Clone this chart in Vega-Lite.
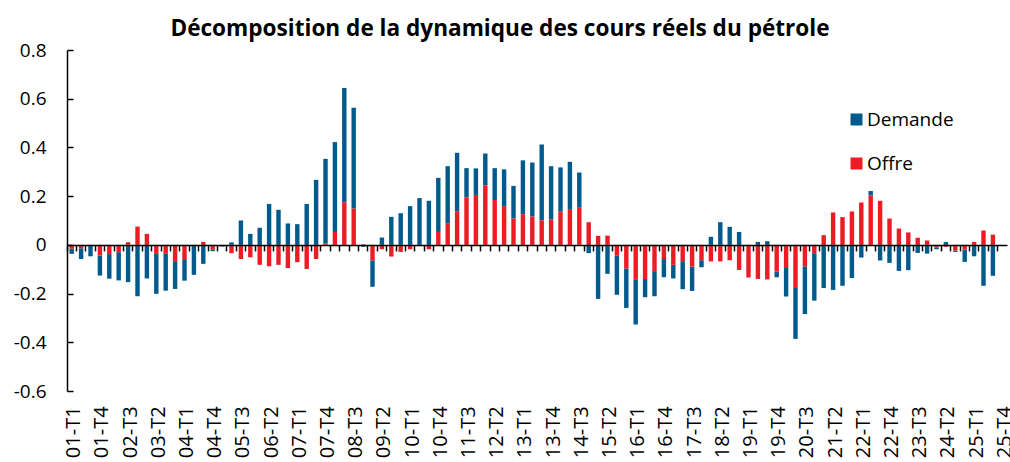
{
  "$schema": "https://vega.github.io/schema/vega-lite/v6.json",
  "width": 940,
  "height": 341,
  "autosize": "none",
  "padding": {"left": 67, "top": 50, "right": 3, "bottom": 71},
  "background": "white",
  "title": {"text": "Décomposition de la dynamique des cours réels du pétrole", "font": "Open Sans", "fontWeight": "bold", "fontSize": 22.6, "color": "black", "anchor": "middle", "frame": "group", "dx": -37, "dy": 31, "baseline": "alphabetic", "offset": 13},
  "config": {"view": {"stroke": null}, "font": "Open Sans"},
  "data": {"values": [
    {"q": "01-T1", "Demande": -0.021, "Offre": -0.016},
    {"q": "01-T2", "Demande": -0.044, "Offre": -0.014},
    {"q": "01-T3", "Demande": -0.044, "Offre": -0.003},
    {"q": "01-T4", "Demande": -0.082, "Offre": -0.044},
    {"q": "02-T1", "Demande": -0.101, "Offre": -0.038},
    {"q": "02-T2", "Demande": -0.116, "Offre": -0.030},
    {"q": "02-T3", "Demande": -0.153, "Offre": 0.011},
    {"q": "02-T4", "Demande": -0.211, "Offre": 0.075},
    {"q": "03-T1", "Demande": -0.138, "Offre": 0.045},
    {"q": "03-T2", "Demande": -0.164, "Offre": -0.037},
    {"q": "03-T3", "Demande": -0.151, "Offre": -0.037},
    {"q": "03-T4", "Demande": -0.111, "Offre": -0.070},
    {"q": "04-T1", "Demande": -0.085, "Offre": -0.062},
    {"q": "04-T2", "Demande": -0.119, "Offre": -0.004},
    {"q": "04-T3", "Demande": -0.078, "Offre": 0.012},
    {"q": "04-T4", "Demande": -0.006, "Offre": -0.020},
    {"q": "05-T1", "Demande": -0.005, "Offre": -0.002},
    {"q": "05-T2", "Demande": 0.010, "Offre": -0.034},
    {"q": "05-T3", "Demande": 0.100, "Offre": -0.058},
    {"q": "05-T4", "Demande": 0.045, "Offre": -0.051},
    {"q": "06-T1", "Demande": 0.070, "Offre": -0.082},
    {"q": "06-T2", "Demande": 0.168, "Offre": -0.088},
    {"q": "06-T3", "Demande": 0.144, "Offre": -0.082},
    {"q": "06-T4", "Demande": 0.088, "Offre": -0.095},
    {"q": "07-T1", "Demande": 0.085, "Offre": -0.071},
    {"q": "07-T2", "Demande": 0.168, "Offre": -0.099},
    {"q": "07-T3", "Demande": 0.267, "Offre": -0.058},
    {"q": "07-T4", "Demande": 0.348, "Offre": 0.005},
    {"q": "08-T1", "Demande": 0.369, "Offre": 0.053},
    {"q": "08-T2", "Demande": 0.469, "Offre": 0.175},
    {"q": "08-T3", "Demande": 0.414, "Offre": 0.149},
    {"q": "08-T4", "Demande": -0.008, "Offre": 0.002},
    {"q": "09-T1", "Demande": -0.108, "Offre": -0.064},
    {"q": "09-T2", "Demande": 0.030, "Offre": -0.018},
    {"q": "09-T3", "Demande": 0.115, "Offre": -0.048},
    {"q": "09-T4", "Demande": 0.130, "Offre": -0.029},
    {"q": "10-T1", "Demande": 0.159, "Offre": -0.018},
    {"q": "10-T2", "Demande": 0.192, "Offre": -0.005},
    {"q": "10-T3", "Demande": 0.181, "Offre": -0.018},
    {"q": "10-T4", "Demande": 0.222, "Offre": 0.053},
    {"q": "11-T1", "Demande": 0.234, "Offre": 0.089},
    {"q": "11-T2", "Demande": 0.240, "Offre": 0.138},
    {"q": "11-T3", "Demande": 0.120, "Offre": 0.195},
    {"q": "11-T4", "Demande": 0.109, "Offre": 0.205},
    {"q": "12-T1", "Demande": 0.131, "Offre": 0.244},
    {"q": "12-T2", "Demande": 0.131, "Offre": 0.184},
    {"q": "12-T3", "Demande": 0.151, "Offre": 0.159},
    {"q": "12-T4", "Demande": 0.134, "Offre": 0.108},
    {"q": "13-T1", "Demande": 0.221, "Offre": 0.126},
    {"q": "13-T2", "Demande": 0.222, "Offre": 0.116},
    {"q": "13-T3", "Demande": 0.311, "Offre": 0.101},
    {"q": "13-T4", "Demande": 0.219, "Offre": 0.104},
    {"q": "14-T1", "Demande": 0.182, "Offre": 0.136},
    {"q": "14-T2", "Demande": 0.194, "Offre": 0.147},
    {"q": "14-T3", "Demande": 0.145, "Offre": 0.152},
    {"q": "14-T4", "Demande": -0.034, "Offre": 0.093},
    {"q": "15-T1", "Demande": -0.222, "Offre": 0.037},
    {"q": "15-T2", "Demande": -0.119, "Offre": 0.038},
    {"q": "15-T3", "Demande": -0.160, "Offre": -0.045},
    {"q": "15-T4", "Demande": -0.162, "Offre": -0.097},
    {"q": "16-T1", "Demande": -0.183, "Offre": -0.144},
    {"q": "16-T2", "Demande": -0.075, "Offre": -0.140},
    {"q": "16-T3", "Demande": -0.103, "Offre": -0.108},
    {"q": "16-T4", "Demande": -0.075, "Offre": -0.058},
    {"q": "17-T1", "Demande": -0.056, "Offre": -0.082},
    {"q": "17-T2", "Demande": -0.115, "Offre": -0.067},
    {"q": "17-T3", "Demande": -0.100, "Offre": -0.089},
    {"q": "17-T4", "Demande": -0.029, "Offre": -0.063},
    {"q": "18-T1", "Demande": 0.033, "Offre": -0.068},
    {"q": "18-T2", "Demande": 0.093, "Offre": -0.068},
    {"q": "18-T3", "Demande": 0.074, "Offre": -0.063},
    {"q": "18-T4", "Demande": 0.053, "Offre": -0.103},
    {"q": "19-T1", "Demande": 0.000, "Offre": -0.134},
    {"q": "19-T2", "Demande": 0.012, "Offre": -0.140},
    {"q": "19-T3", "Demande": 0.015, "Offre": -0.142},
    {"q": "19-T4", "Demande": -0.023, "Offre": -0.110},
    {"q": "20-T1", "Demande": -0.117, "Offre": -0.095},
    {"q": "20-T2", "Demande": -0.209, "Offre": -0.177},
    {"q": "20-T3", "Demande": -0.196, "Offre": -0.088},
    {"q": "20-T4", "Demande": -0.195, "Offre": -0.034},
    {"q": "21-T1", "Demande": -0.177, "Offre": 0.040},
    {"q": "21-T2", "Demande": -0.185, "Offre": 0.133},
    {"q": "21-T3", "Demande": -0.168, "Offre": 0.114},
    {"q": "21-T4", "Demande": -0.136, "Offre": 0.137},
    {"q": "22-T1", "Demande": -0.052, "Offre": 0.174},
    {"q": "22-T2", "Demande": 0.018, "Offre": 0.203},
    {"q": "22-T3", "Demande": -0.064, "Offre": 0.181},
    {"q": "22-T4", "Demande": -0.074, "Offre": 0.108},
    {"q": "23-T1", "Demande": -0.107, "Offre": 0.067},
    {"q": "23-T2", "Demande": -0.104, "Offre": 0.051},
    {"q": "23-T3", "Demande": -0.033, "Offre": 0.029},
    {"q": "23-T4", "Demande": -0.036, "Offre": 0.018},
    {"q": "24-T1", "Demande": -0.007, "Offre": -0.011},
    {"q": "24-T2", "Demande": 0.012, "Offre": -0.008},
    {"q": "24-T3", "Demande": -0.006, "Offre": -0.023},
    {"q": "24-T4", "Demande": -0.051, "Offre": -0.019},
    {"q": "25-T1", "Demande": -0.047, "Offre": 0.012},
    {"q": "25-T2", "Demande": -0.168, "Offre": 0.059},
    {"q": "25-T3", "Demande": -0.127, "Offre": 0.042},
    {"q": "25-T4", "Demande": 0, "Offre": 0}
  ]},
  "transform": [{"fold": ["Demande", "Offre"], "as": ["serie", "valeur"]}],
  "mark": {"type": "bar", "width": {"band": 0.47}},
  "encoding": {
    "x": {
      "field": "q", "type": "nominal", "sort": null,
      "scale": {"paddingInner": 0, "paddingOuter": 0},
      "axis": {
        "title": null, "orient": "bottom", "offset": -146.1, "bandPosition": 0,
        "tickSize": 6, "tickColor": "black", "tickWidth": 1.5,
        "domainColor": "black", "domainWidth": 1.5, "zindex": 1,
        "labelAngle": 270, "labelPadding": 155, "labelOffset": 2.5,
        "labelFontSize": 20, "labelColor": "black", "labelOverlap": false, "labelBound": false,
        "labelExpr": "((toNumber(slice(datum.label,0,2))-1)*4 + toNumber(slice(datum.label,4,5)) - 1) % 3 == 0 ? datum.label : ''"
      }
    },
    "y": {
      "field": "valeur", "type": "quantitative",
      "scale": {"domain": [-0.6, 0.8], "nice": false, "zero": false},
      "axis": {
        "title": null, "grid": false, "values": [-0.6, -0.4, -0.2, 0, 0.2, 0.4, 0.6, 0.8],
        "labelExpr": "datum.value == 0 ? '0' : (datum.value < 0 ? '-' : '') + format(abs(datum.value), '.1f')",
        "domainColor": "black", "domainWidth": 1.5, "tickColor": "black", "tickWidth": 1.5,
        "tickSize": -6, "labelPadding": 27, "labelFontSize": 19, "labelColor": "black"
      }
    },
    "color": {
      "field": "serie", "type": "nominal",
      "scale": {"domain": ["Demande", "Offre"], "range": ["#005A8C", "#ED1C24"]},
      "legend": {
        "title": null, "orient": "none", "legendX": 780, "legendY": 60,
        "symbolType": "square", "symbolSize": 144, "symbolStrokeWidth": 0,
        "labelFontSize": 19, "labelColor": "black", "rowPadding": 24, "labelOffset": 1
      }
    },
    "order": {"field": "serie", "sort": "descending"}
  }
}
